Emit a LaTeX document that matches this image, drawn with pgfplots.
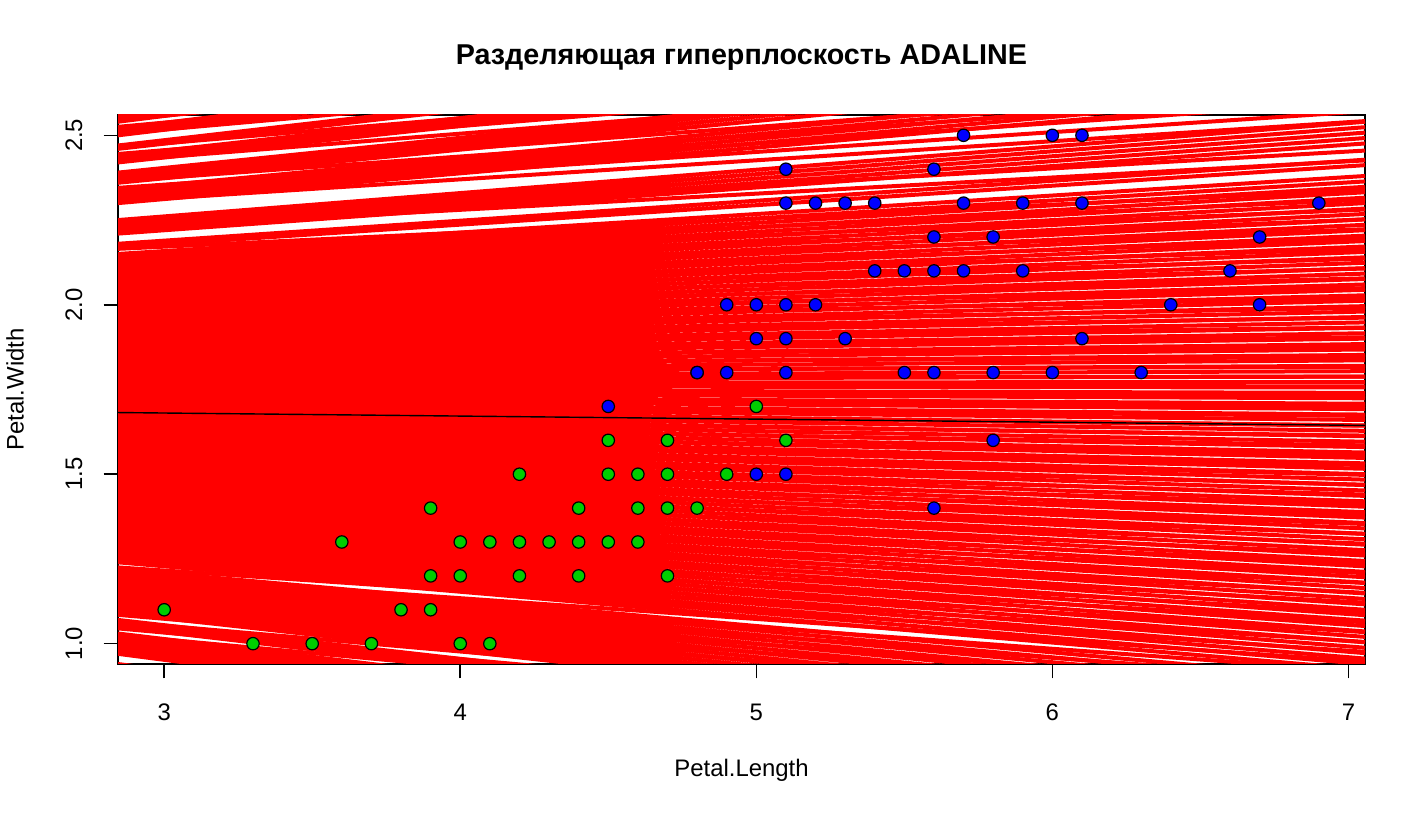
\documentclass[border=0pt]{standalone}
\usepackage{pgfplots}
\pgfplotsset{compat=1.18}
\usepackage{pgfplotstable}
\usepackage{fontspec}
\setmainfont{Liberation Sans}
\definecolor{rgreen}{RGB}{0,205,0}
\definecolor{rblue}{RGB}{0,0,255}
\definecolor{rred}{RGB}{255,0,0}

\pgfplotstableread[row sep=\\]{
x y\\
2.844 0.90\\ 7.056 0.380\\ nan nan\\
2.844 0.91\\ 7.056 0.396\\ nan nan\\
2.844 0.92\\ 7.056 0.412\\ nan nan\\
2.844 0.93\\ 7.056 0.428\\ nan nan\\
2.844 0.94\\ 7.056 0.444\\ nan nan\\
2.844 0.97\\ 7.056 0.492\\ nan nan\\
2.844 0.98\\ 7.056 0.508\\ nan nan\\
2.844 0.99\\ 7.056 0.524\\ nan nan\\
2.844 1.00\\ 7.056 0.540\\ nan nan\\
2.844 1.01\\ 7.056 0.556\\ nan nan\\
2.844 1.02\\ 7.056 0.572\\ nan nan\\
2.844 1.03\\ 7.056 0.588\\ nan nan\\
2.844 1.05\\ 7.056 0.620\\ nan nan\\
2.844 1.06\\ 7.056 0.636\\ nan nan\\
2.844 1.07\\ 7.056 0.652\\ nan nan\\
2.844 1.09\\ 7.056 0.684\\ nan nan\\
2.844 1.10\\ 7.056 0.700\\ nan nan\\
2.844 1.11\\ 7.056 0.716\\ nan nan\\
2.844 1.12\\ 7.056 0.732\\ nan nan\\
2.844 1.13\\ 7.056 0.748\\ nan nan\\
2.844 1.14\\ 7.056 0.764\\ nan nan\\
2.844 1.15\\ 7.056 0.780\\ nan nan\\
2.844 1.16\\ 7.056 0.796\\ nan nan\\
2.844 1.17\\ 7.056 0.812\\ nan nan\\
2.844 1.18\\ 7.056 0.828\\ nan nan\\
2.844 1.19\\ 7.056 0.844\\ nan nan\\
2.844 1.20\\ 7.056 0.860\\ nan nan\\
2.844 1.21\\ 7.056 0.876\\ nan nan\\
2.844 1.22\\ 7.056 0.892\\ nan nan\\
2.844 1.24\\ 7.056 0.924\\ nan nan\\
2.844 1.25\\ 7.056 0.940\\ nan nan\\
2.844 1.26\\ 7.056 0.956\\ nan nan\\
2.844 1.27\\ 7.056 0.972\\ nan nan\\
2.844 1.28\\ 7.056 0.988\\ nan nan\\
2.844 1.29\\ 7.056 1.004\\ nan nan\\
2.844 1.30\\ 7.056 1.020\\ nan nan\\
2.844 1.31\\ 7.056 1.036\\ nan nan\\
2.844 1.32\\ 7.056 1.052\\ nan nan\\
2.844 1.33\\ 7.056 1.068\\ nan nan\\
2.844 1.34\\ 7.056 1.084\\ nan nan\\
2.844 1.35\\ 7.056 1.100\\ nan nan\\
2.844 1.36\\ 7.056 1.116\\ nan nan\\
2.844 1.37\\ 7.056 1.132\\ nan nan\\
2.844 1.38\\ 7.056 1.148\\ nan nan\\
2.844 1.39\\ 7.056 1.164\\ nan nan\\
2.844 1.40\\ 7.056 1.180\\ nan nan\\
2.844 1.41\\ 7.056 1.196\\ nan nan\\
2.844 1.42\\ 7.056 1.212\\ nan nan\\
2.844 1.43\\ 7.056 1.228\\ nan nan\\
2.844 1.44\\ 7.056 1.244\\ nan nan\\
2.844 1.45\\ 7.056 1.260\\ nan nan\\
2.844 1.46\\ 7.056 1.276\\ nan nan\\
2.844 1.47\\ 7.056 1.292\\ nan nan\\
2.844 1.48\\ 7.056 1.308\\ nan nan\\
2.844 1.49\\ 7.056 1.324\\ nan nan\\
2.844 1.50\\ 7.056 1.340\\ nan nan\\
2.844 1.51\\ 7.056 1.356\\ nan nan\\
2.844 1.52\\ 7.056 1.372\\ nan nan\\
2.844 1.53\\ 7.056 1.388\\ nan nan\\
2.844 1.54\\ 7.056 1.404\\ nan nan\\
2.844 1.55\\ 7.056 1.420\\ nan nan\\
2.844 1.56\\ 7.056 1.436\\ nan nan\\
2.844 1.57\\ 7.056 1.452\\ nan nan\\
2.844 1.58\\ 7.056 1.468\\ nan nan\\
2.844 1.59\\ 7.056 1.484\\ nan nan\\
2.844 1.60\\ 7.056 1.500\\ nan nan\\
2.844 1.61\\ 7.056 1.516\\ nan nan\\
2.844 1.62\\ 7.056 1.532\\ nan nan\\
2.844 1.63\\ 7.056 1.548\\ nan nan\\
2.844 1.64\\ 7.056 1.564\\ nan nan\\
2.844 1.65\\ 7.056 1.580\\ nan nan\\
2.844 1.66\\ 7.056 1.596\\ nan nan\\
2.844 1.67\\ 7.056 1.612\\ nan nan\\
2.844 1.68\\ 7.056 1.628\\ nan nan\\
2.844 1.69\\ 7.056 1.644\\ nan nan\\
2.844 1.70\\ 7.056 1.660\\ nan nan\\
2.844 1.71\\ 7.056 1.676\\ nan nan\\
2.844 1.72\\ 7.056 1.692\\ nan nan\\
2.844 1.73\\ 7.056 1.708\\ nan nan\\
2.844 1.74\\ 7.056 1.724\\ nan nan\\
2.844 1.75\\ 7.056 1.740\\ nan nan\\
2.844 1.76\\ 7.056 1.756\\ nan nan\\
2.844 1.77\\ 7.056 1.772\\ nan nan\\
2.844 1.78\\ 7.056 1.788\\ nan nan\\
2.844 1.79\\ 7.056 1.804\\ nan nan\\
2.844 1.80\\ 7.056 1.820\\ nan nan\\
2.844 1.81\\ 7.056 1.836\\ nan nan\\
2.844 1.82\\ 7.056 1.852\\ nan nan\\
2.844 1.83\\ 7.056 1.868\\ nan nan\\
2.844 1.84\\ 7.056 1.884\\ nan nan\\
2.844 1.85\\ 7.056 1.900\\ nan nan\\
2.844 1.86\\ 7.056 1.916\\ nan nan\\
2.844 1.87\\ 7.056 1.932\\ nan nan\\
2.844 1.88\\ 7.056 1.948\\ nan nan\\
2.844 1.89\\ 7.056 1.964\\ nan nan\\
2.844 1.90\\ 7.056 1.980\\ nan nan\\
2.844 1.91\\ 7.056 1.996\\ nan nan\\
2.844 1.92\\ 7.056 2.012\\ nan nan\\
2.844 1.93\\ 7.056 2.028\\ nan nan\\
2.844 1.94\\ 7.056 2.044\\ nan nan\\
2.844 1.95\\ 7.056 2.060\\ nan nan\\
2.844 1.96\\ 7.056 2.076\\ nan nan\\
2.844 1.97\\ 7.056 2.092\\ nan nan\\
2.844 1.98\\ 7.056 2.108\\ nan nan\\
2.844 1.99\\ 7.056 2.124\\ nan nan\\
2.844 2.00\\ 7.056 2.140\\ nan nan\\
2.844 2.01\\ 7.056 2.156\\ nan nan\\
2.844 2.02\\ 7.056 2.172\\ nan nan\\
2.844 2.03\\ 7.056 2.188\\ nan nan\\
2.844 2.04\\ 7.056 2.204\\ nan nan\\
2.844 2.05\\ 7.056 2.220\\ nan nan\\
2.844 2.06\\ 7.056 2.236\\ nan nan\\
2.844 2.07\\ 7.056 2.252\\ nan nan\\
2.844 2.08\\ 7.056 2.268\\ nan nan\\
2.844 2.09\\ 7.056 2.284\\ nan nan\\
2.844 2.10\\ 7.056 2.300\\ nan nan\\
2.844 2.11\\ 7.056 2.316\\ nan nan\\
2.844 2.12\\ 7.056 2.332\\ nan nan\\
2.844 2.13\\ 7.056 2.348\\ nan nan\\
2.844 2.14\\ 7.056 2.364\\ nan nan\\
2.844 2.15\\ 7.056 2.380\\ nan nan\\
2.844 2.17\\ 7.056 2.412\\ nan nan\\
2.844 2.18\\ 7.056 2.428\\ nan nan\\
2.844 2.21\\ 7.056 2.476\\ nan nan\\
2.844 2.22\\ 7.056 2.492\\ nan nan\\
2.844 2.23\\ 7.056 2.508\\ nan nan\\
2.844 2.24\\ 7.056 2.524\\ nan nan\\
2.844 2.25\\ 7.056 2.540\\ nan nan\\
2.844 2.30\\ 7.056 2.620\\ nan nan\\
2.844 2.31\\ 7.056 2.636\\ nan nan\\
2.844 2.32\\ 7.056 2.652\\ nan nan\\
2.844 2.33\\ 7.056 2.668\\ nan nan\\
2.844 2.34\\ 7.056 2.684\\ nan nan\\
2.844 2.36\\ 7.056 2.716\\ nan nan\\
2.844 2.37\\ 7.056 2.732\\ nan nan\\
2.844 2.38\\ 7.056 2.748\\ nan nan\\
2.844 2.39\\ 7.056 2.764\\ nan nan\\
2.844 2.42\\ 7.056 2.812\\ nan nan\\
2.844 2.43\\ 7.056 2.828\\ nan nan\\
2.844 2.44\\ 7.056 2.844\\ nan nan\\
2.844 2.46\\ 7.056 2.876\\ nan nan\\
2.844 2.47\\ 7.056 2.892\\ nan nan\\
2.844 2.50\\ 7.056 2.940\\ nan nan\\
2.844 2.51\\ 7.056 2.956\\ nan nan\\
2.844 2.52\\ 7.056 2.972\\ nan nan\\
2.844 2.54\\ 7.056 3.004\\ nan nan\\
2.844 2.55\\ 7.056 3.020\\ nan nan\\
2.844 2.56\\ 7.056 3.036\\ nan nan\\
2.844 2.58\\ 7.056 3.068\\ nan nan\\
2.844 2.59\\ 7.056 3.084\\ nan nan\\
2.844 2.60\\ 7.056 3.100\\
}\redlines

\pgfplotstableread[row sep=\\]{
x y\\
2.844 0.905\\ 7.056 0.512\\ nan nan\\
2.844 0.925\\ 7.056 0.541\\ nan nan\\
2.844 0.985\\ 7.056 0.628\\ nan nan\\
2.844 1.005\\ 7.056 0.657\\ nan nan\\
2.844 1.025\\ 7.056 0.686\\ nan nan\\
2.844 1.045\\ 7.056 0.715\\ nan nan\\
2.844 1.065\\ 7.056 0.744\\ nan nan\\
2.844 1.085\\ 7.056 0.773\\ nan nan\\
2.844 1.105\\ 7.056 0.802\\ nan nan\\
2.844 1.125\\ 7.056 0.831\\ nan nan\\
2.844 1.145\\ 7.056 0.860\\ nan nan\\
2.844 1.165\\ 7.056 0.889\\ nan nan\\
2.844 1.185\\ 7.056 0.918\\ nan nan\\
2.844 1.205\\ 7.056 0.947\\ nan nan\\
2.844 1.225\\ 7.056 0.976\\ nan nan\\
2.844 1.245\\ 7.056 1.005\\ nan nan\\
2.844 1.265\\ 7.056 1.034\\ nan nan\\
2.844 1.285\\ 7.056 1.063\\ nan nan\\
2.844 1.305\\ 7.056 1.092\\ nan nan\\
2.844 1.325\\ 7.056 1.121\\ nan nan\\
2.844 1.345\\ 7.056 1.150\\ nan nan\\
2.844 1.365\\ 7.056 1.179\\ nan nan\\
2.844 1.385\\ 7.056 1.208\\ nan nan\\
2.844 1.405\\ 7.056 1.237\\ nan nan\\
2.844 1.425\\ 7.056 1.266\\ nan nan\\
2.844 1.445\\ 7.056 1.295\\ nan nan\\
2.844 1.465\\ 7.056 1.324\\ nan nan\\
2.844 1.485\\ 7.056 1.353\\ nan nan\\
2.844 1.505\\ 7.056 1.382\\ nan nan\\
2.844 1.525\\ 7.056 1.411\\ nan nan\\
2.844 1.545\\ 7.056 1.440\\ nan nan\\
2.844 1.565\\ 7.056 1.469\\ nan nan\\
2.844 1.585\\ 7.056 1.498\\ nan nan\\
2.844 1.605\\ 7.056 1.527\\ nan nan\\
2.844 1.625\\ 7.056 1.556\\ nan nan\\
2.844 1.645\\ 7.056 1.585\\ nan nan\\
2.844 1.665\\ 7.056 1.614\\ nan nan\\
2.844 1.685\\ 7.056 1.643\\ nan nan\\
2.844 1.705\\ 7.056 1.672\\ nan nan\\
2.844 1.725\\ 7.056 1.701\\ nan nan\\
2.844 1.745\\ 7.056 1.730\\ nan nan\\
2.844 1.765\\ 7.056 1.759\\ nan nan\\
2.844 1.785\\ 7.056 1.788\\ nan nan\\
2.844 1.805\\ 7.056 1.817\\ nan nan\\
2.844 1.825\\ 7.056 1.846\\ nan nan\\
2.844 1.845\\ 7.056 1.875\\ nan nan\\
2.844 1.865\\ 7.056 1.904\\ nan nan\\
2.844 1.885\\ 7.056 1.933\\ nan nan\\
2.844 1.905\\ 7.056 1.962\\ nan nan\\
2.844 1.925\\ 7.056 1.991\\ nan nan\\
2.844 1.945\\ 7.056 2.020\\ nan nan\\
2.844 1.965\\ 7.056 2.049\\ nan nan\\
2.844 1.985\\ 7.056 2.078\\ nan nan\\
2.844 2.005\\ 7.056 2.107\\ nan nan\\
2.844 2.025\\ 7.056 2.136\\ nan nan\\
2.844 2.045\\ 7.056 2.165\\ nan nan\\
2.844 2.065\\ 7.056 2.194\\ nan nan\\
2.844 2.085\\ 7.056 2.223\\ nan nan\\
2.844 2.105\\ 7.056 2.252\\ nan nan\\
2.844 2.125\\ 7.056 2.281\\ nan nan\\
2.844 2.145\\ 7.056 2.310\\ nan nan\\
2.844 2.165\\ 7.056 2.339\\ nan nan\\
2.844 2.225\\ 7.056 2.426\\ nan nan\\
2.844 2.245\\ 7.056 2.455\\ nan nan\\
2.844 2.305\\ 7.056 2.542\\ nan nan\\
2.844 2.325\\ 7.056 2.571\\ nan nan\\
2.844 2.345\\ 7.056 2.600\\ nan nan\\
2.844 2.365\\ 7.056 2.629\\ nan nan\\
2.844 2.385\\ 7.056 2.658\\ nan nan\\
2.844 2.425\\ 7.056 2.716\\ nan nan\\
2.844 2.445\\ 7.056 2.745\\ nan nan\\
2.844 2.465\\ 7.056 2.774\\ nan nan\\
2.844 2.505\\ 7.056 2.832\\ nan nan\\
2.844 2.525\\ 7.056 2.861\\ nan nan\\
2.844 2.545\\ 7.056 2.890\\ nan nan\\
2.844 2.565\\ 7.056 2.919\\ nan nan\\
2.844 2.585\\ 7.056 2.948\\
}\redlinesb

\pgfplotstableread[row sep=\\]{
x y\\
4.7 1.4\\ 4.5 1.5\\ 4.9 1.5\\ 4.0 1.3\\ 4.6 1.5\\ 4.5 1.3\\ 4.7 1.6\\ 3.3 1.0\\
4.6 1.3\\ 3.9 1.4\\ 3.5 1.0\\ 4.2 1.5\\ 4.0 1.0\\ 3.6 1.3\\ 4.4 1.4\\ 4.1 1.0\\
3.9 1.1\\ 4.8 1.8\\ 4.7 1.2\\ 4.3 1.3\\ 4.8 1.4\\ 5.0 1.7\\ 3.8 1.1\\ 3.7 1.0\\
3.9 1.2\\ 5.1 1.6\\ 4.5 1.6\\ 4.7 1.5\\ 4.4 1.3\\ 4.1 1.3\\ 4.4 1.2\\ 4.6 1.4\\
4.0 1.2\\ 4.2 1.3\\ 4.2 1.2\\ 3.0 1.1\\
}\versicolor

\pgfplotstableread[row sep=\\]{
x y\\
6.0 2.5\\ 5.1 1.9\\ 5.9 2.1\\ 5.6 1.8\\ 5.8 2.2\\ 6.6 2.1\\ 4.5 1.7\\ 6.3 1.8\\
5.8 1.8\\ 6.1 2.5\\ 5.1 2.0\\ 5.3 1.9\\ 5.5 2.1\\ 5.0 2.0\\ 5.1 2.4\\ 5.3 2.3\\
5.5 1.8\\ 6.7 2.2\\ 6.9 2.3\\ 5.0 1.5\\ 5.7 2.3\\ 4.9 2.0\\ 6.7 2.0\\ 4.9 1.8\\
5.7 2.1\\ 6.0 1.8\\ 4.8 1.8\\ 5.6 2.1\\ 5.8 1.6\\ 6.1 1.9\\ 6.4 2.0\\ 5.6 2.2\\
5.1 1.5\\ 5.6 1.4\\ 6.1 2.3\\ 5.6 2.4\\ 5.4 2.1\\ 5.1 2.3\\ 5.9 2.3\\ 5.7 2.5\\
5.2 2.3\\ 5.0 1.9\\ 5.2 2.0\\ 5.4 2.3\\ 5.1 1.8\\
}\virginica

\begin{document}
\begin{tikzpicture}
\useasboundingbox (-59bp,-76bp) rectangle (651bp,332bp);
\begin{axis}[
  at={(0,0)}, anchor=south west,
  scale only axis, width=623.5bp, height=274.5bp,
  xmin=2.844, xmax=7.056, ymin=0.94, ymax=2.56,
  xtick={3,4,5,6,7}, ytick={1,1.5,2,2.5},
  xtick pos=bottom, ytick pos=left,
  tick align=outside, major tick length=7.2bp,
  tick style={black, line width=0.8bp},
  axis line style={black, line width=0.8bp},
  /pgf/number format/assume math mode=true,
  yticklabel={\pgfmathprintnumber[fixed,fixed zerofill,precision=1]{\tick}},
  ticklabel style={font=\fontsize{12}{14}\selectfont},
  xticklabel style={anchor=center, yshift=-16.8bp},
  yticklabel style={anchor=center, xshift=-14.8bp, rotate=90},
  clip=true,
]
\addplot[rred, line width=2bp, unbounded coords=jump, forget plot] table[x=x,y=y] {\redlines};
\addplot[rred, line width=2bp, unbounded coords=jump, forget plot] table[x=x,y=y] {\redlinesb};
\addplot[black, line width=0.7bp] coordinates {(2.844,1.682) (7.056,1.644)};
\addplot[only marks, mark=*, mark size=3.1bp, mark options={fill=rgreen, draw=black, line width=0.6bp}] table[x=x,y=y] {\versicolor};
\addplot[only marks, mark=*, mark size=3.1bp, mark options={fill=rblue, draw=black, line width=0.6bp}] table[x=x,y=y] {\virginica};
\end{axis}
\node[font=\fontsize{14.4}{17}\selectfont\bfseries] at (311.75bp,303bp) {Разделяющая гиперплоскость ADALINE};
\node[font=\fontsize{12}{14}\selectfont] at (311.75bp,-53bp) {Petal.Length};
\node[font=\fontsize{12}{14}\selectfont, rotate=90] at (-51.5bp,137.25bp) {Petal.Width};
\end{tikzpicture}
\end{document}
